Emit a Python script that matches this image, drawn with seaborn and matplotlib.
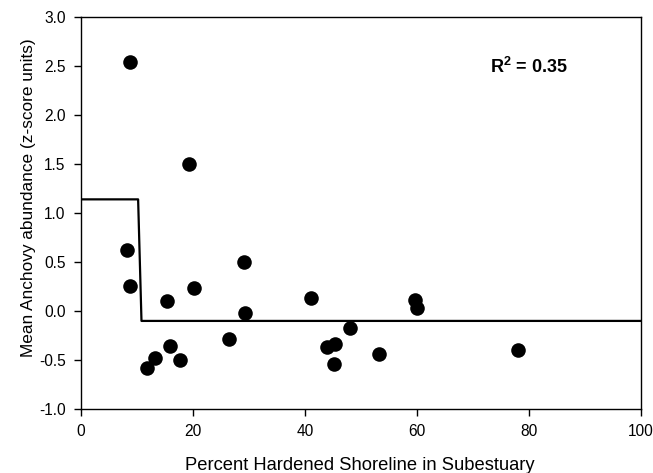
import matplotlib
matplotlib.use("Agg")
import matplotlib.pyplot as plt
import seaborn as sns
import pandas as pd
import numpy as np

# Observed points
pct_hardened = [8.75, 19.3, 8.2, 8.8, 15.4, 20.2, 29.1, 29.3, 26.4, 15.9, 13.2, 11.8,
                 17.7, 41.1, 48.0, 43.9, 45.3, 45.2, 53.2, 59.6, 60.0, 78.0]
anchovy_z = [2.54, 1.50, 0.62, 0.26, 0.10, 0.24, 0.50, -0.02, -0.28, -0.36, -0.48, -0.58,
             -0.50, 0.13, -0.17, -0.37, -0.34, -0.54, -0.44, 0.11, 0.03, -0.40]

# Fitted step (threshold) model
step_x = [0.0, 10.2, 10.8, 100.0]
step_y = [1.14, 1.14, -0.10, -0.10]

r2_label = r"R$^\mathbf{2}$ = 0.35"

sns.set_style("ticks")
plt.rcParams['font.family'] = ['Liberation Sans', 'DejaVu Sans']
plt.rcParams['mathtext.fontset'] = 'custom'
plt.rcParams['mathtext.rm'] = 'Liberation Sans'
plt.rcParams['mathtext.bf'] = 'Liberation Sans:bold'
plt.rcParams['text.color'] = 'black'
plt.rcParams['axes.labelcolor'] = 'black'

fig = plt.figure(figsize=(6.53, 4.73), dpi=100)
ax = fig.add_axes([0.124, 0.135, 0.858, 0.829])

pts = pd.DataFrame({"x": pct_hardened, "y": anchovy_z})
line = pd.DataFrame({"x": step_x, "y": step_y})

sns.lineplot(data=line, x="x", y="y", sort=False, color="black", linewidth=1.6, ax=ax)
sns.scatterplot(data=pts, x="x", y="y", color="black", s=110, edgecolor="black",
                linewidth=0, ax=ax, zorder=3)

ax.set_xlim(0, 100)
ax.set_ylim(-1.0, 3.0)
ax.set_xticks([0, 20, 40, 60, 80, 100])
ax.set_yticks(np.arange(-1.0, 3.01, 0.5))
ax.set_yticklabels([f"{v:.1f}" for v in np.arange(-1.0, 3.01, 0.5)])

for sp in ax.spines.values():
    sp.set_visible(True)
    sp.set_color("black")
    sp.set_linewidth(1.0)

ax.tick_params(axis="both", direction="out", length=5, width=1.0, colors="black",
               labelsize=11.2, pad=6)
ax.set_xlabel("Percent Hardened Shoreline in Subestuary", fontsize=13.2)
ax.set_ylabel("Mean Anchovy abundance (z-score units)", fontsize=12.4)
ax.xaxis.set_label_coords(0.498, -0.143)
ax.xaxis.label.set_va("center")
ax.yaxis.set_label_coords(-0.093, 0.54)
ax.yaxis.label.set_va("center")

ax.text(73, 2.49, r2_label, fontsize=13, fontweight="bold", ha="left", va="center")

fig.savefig("out.png", dpi=100)
